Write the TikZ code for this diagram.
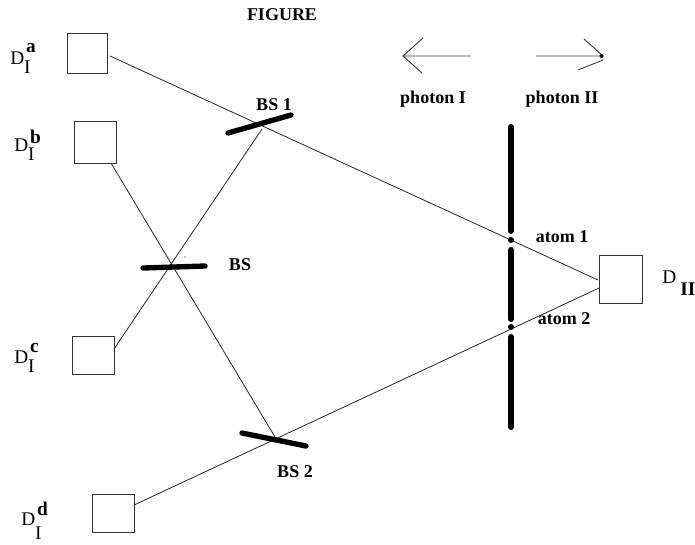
\documentclass[tikz,border=0pt]{standalone}
\usepackage{fontspec}
\setmainfont{Liberation Serif}
\newcommand{\dlab}[3]{\fontsize{14.5pt}{15pt}\selectfont\mbox{D\raisebox{-#3}{\makebox[0pt][l]{I}}\hspace{1.5pt}\raisebox{#2}{\textbf{#1}}}}
\tikzset{
  det/.style={draw=black!80,line width=0.7pt,fill=white,inner sep=0pt},
  beam/.style={draw=black!85,line width=0.6pt},
  splitter/.style={draw=black,line width=4pt,line cap=round},
  screen/.style={draw=black,line width=4.5pt,line cap=round},
  lab/.style={inner sep=0pt,font=\fontsize{13.5pt}{14pt}\selectfont\bfseries},
  dlabel/.style={inner sep=0pt,anchor=base west},
  atomdot/.style={circle,fill=black,inner sep=0pt,minimum size=4.5pt},
  arrowline/.style={draw=black!75,line width=0.7pt}
}
\begin{document}
\begin{tikzpicture}[x=0.75pt,y=-0.75pt]
\useasboundingbox (0,0) rectangle (695,544);
% beam endpoints
\coordinate (a0) at (110,56);
\coordinate (b0) at (111,163);
\coordinate (c0) at (114,349);
\coordinate (d0) at (134,505);
\coordinate (bs1hit) at (262,129);
\coordinate (bs2hit) at (275,437);
\coordinate (ii1) at (598,280);
\coordinate (ii2) at (599,288);
% detectors
\node[det,minimum width=30pt,minimum height=30pt] (Da) at (87,53) {};
\node[det,minimum width=31.5pt,minimum height=31.5pt] (Db) at (95,142) {};
\node[det,minimum width=31.5pt,minimum height=28.5pt] (Dc) at (93,355.5) {};
\node[det,minimum width=31.5pt,minimum height=28.5pt] (Dd) at (113,513) {};
\node[det,minimum width=32.25pt,minimum height=36pt] (DII) at (620.5,279) {};
% beams
\draw[beam] (a0) -- (ii1);
\draw[beam] (d0) -- (ii2);
\draw[beam] (b0) -- (bs2hit);
\draw[beam] (c0) -- (bs1hit);
% beam splitters
\coordinate (s1a) at (228,133); \coordinate (s1b) at (291,115);
\coordinate (sa) at (143,268); \coordinate (sb) at (205,266);
\coordinate (s2a) at (242,433); \coordinate (s2b) at (306,446);
\draw[splitter] (s1a) -- (s1b);
\draw[splitter] (sa) -- (sb);
\draw[splitter] (s2a) -- (s2b);
\fill (185,257) circle (0.4pt);
% screen
\coordinate (t1) at (511,127); \coordinate (t2) at (511,231);
\coordinate (t3) at (511,250); \coordinate (t4) at (511,319);
\coordinate (t5) at (511,337); \coordinate (t6) at (511,427);
\draw[screen] (t1) -- (t2);
\draw[screen] (t3) -- (t4);
\draw[screen] (t5) -- (t6);
\node[atomdot] (atomA) at (511,240) {};
\node[atomdot] (atomB) at (511,327) {};
% arrows
\coordinate (l0) at (471,56); \coordinate (l1) at (403,56);
\coordinate (l2) at (423,38); \coordinate (l3) at (422,73);
\draw[arrowline] (l0) -- (l1) (l2) -- (l1) -- (l3);
\coordinate (r0) at (536,56); \coordinate (r1) at (603,56);
\coordinate (r2) at (584,39); \coordinate (r3) at (578,70); \coordinate (r4) at (603,60);
\draw[arrowline] (r0) -- (r1) (r2) -- (r1) (r3) -- (r4);
\fill (601.5,56) circle (1.5pt);
% labels
\node[lab] (fig) at (282,15) {FIGURE};
\node[lab] (ph1) at (433,99) {photon I};
\node[lab] (ph2) at (562,99) {photon II};
\node[lab] (lbs1) at (274,105) {BS 1};
\node[lab] (lbs) at (240,265) {BS};
\node[lab] (lbs2) at (295,472) {BS 2};
\node[lab] (la1) at (562,237) {atom 1};
\node[lab] (la2) at (564,319) {atom 2};
\node[dlabel] (lDa) at (10,64) {\dlab{a}{9pt}{6.75pt}};
\node[dlabel] (lDb) at (14,151) {\dlab{b}{6pt}{6.75pt}};
\node[dlabel] (lDc) at (14,363) {\dlab{c}{8pt}{6.75pt}};
\node[dlabel] (lDd) at (21,525) {\dlab{d}{7.5pt}{11pt}};
\node[dlabel,font=\fontsize{14.5pt}{15pt}\selectfont] (lII) at (662,283) {D};
\node[dlabel,font=\fontsize{14.5pt}{15pt}\selectfont\bfseries] (lIIs) at (680,295) {II};
\end{tikzpicture}
\end{document}
